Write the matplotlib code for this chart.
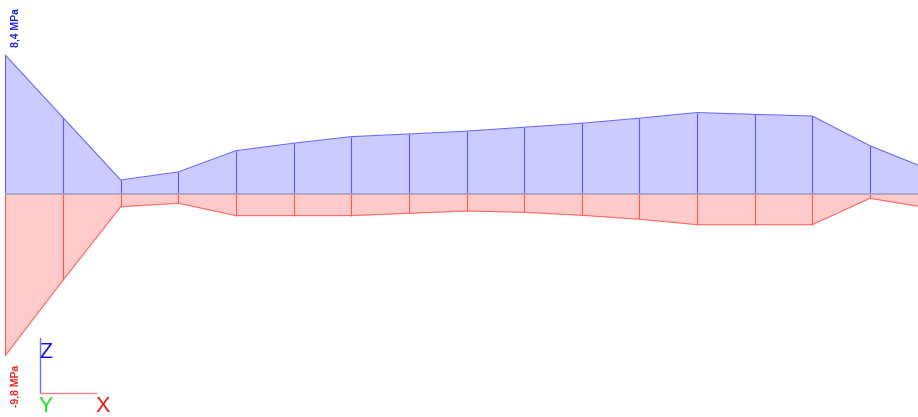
import numpy as np
import matplotlib
matplotlib.use('Agg')
import matplotlib.pyplot as plt

plt.rcParams['font.family'] = ['Liberation Sans', 'DejaVu Sans']

# stress along the beam, MPa, one value per station
stations = [0, 1, 2, 3, 4, 5, 6, 7, 8, 9, 10, 11, 12, 13, 14, 15, 15.83]
top_mpa = [8.4, 4.61, 0.83, 1.32, 2.61, 3.06, 3.46, 3.62, 3.79, 4.03, 4.27, 4.58, 4.92, 4.81, 4.71, 2.91, 1.74]
bottom_mpa = [-9.8, -5.24, -0.79, -0.58, -1.33, -1.33, -1.33, -1.19, -1.05, -1.13, -1.31, -1.55, -1.88, -1.88, -1.88, -0.28, -0.76]
max_label = '8,4 MPa'
min_label = '-9,8 MPa'
axis_letters = ['Z', 'Y', 'X']

fig = plt.figure(figsize=(9.18, 4.17), dpi=100)
ax = fig.add_axes([0, 0, 1, 1])
ax.set_xlim(-0.095, 15.834)
ax.set_ylim(-13.55, 11.75)
ax.axis('off')

x = np.array(stations)
top = np.array(top_mpa)
bottom = np.array(bottom_mpa)

ax.fill_between(x, 0, top, color='#cbcbff', lw=0)
ax.fill_between(x, bottom, 0, color='#ffcaca', lw=0)
ax.plot(x, top, color='#6a6aff', lw=0.8)
ax.plot(x, bottom, color='#ff6a6a', lw=0.8)
ax.vlines(x[:-1], 0, top[:-1], color='#5a5aff', lw=0.8)
ax.vlines(x[:-1], bottom[:-1], 0, color='#ff5a5a', lw=0.8)
ax.hlines(0, x[0], x[-1], color='#a8a2c0', lw=1.2)

ax.text(0.17, 8.4 + 0.48, max_label, color='#2020ee', fontsize=7.5, fontweight='bold',
        rotation=90, ha='center', va='bottom')
ax.text(0.17, -9.8 - 0.6, min_label, color='#f02020', fontsize=7.5, fontweight='bold',
        rotation=90, ha='center', va='top')

# coordinate triad, placed in pixels
px = fig.transFigure.inverted()
def fig_xy(a, b):
    return px.transform((a, 417 - b))

for end, col in [((40, 338), '#7070ff'), ((96, 393), '#ff8080')]:
    p0 = fig_xy(40, 393)
    p1 = fig_xy(*end)
    fig.add_artist(plt.Line2D([p0[0], p1[0]], [p0[1], p1[1]], color=col, lw=1))

for letter, pos, col in zip(axis_letters, [(46, 352), (46, 407), (103, 407)], ['#1010e0', '#20e020', '#f01010']):
    xy = fig_xy(*pos)
    fig.text(xy[0], xy[1], letter, color=col, fontsize=15.5, ha='center', va='center')

fig.savefig('out.png', dpi=100)
